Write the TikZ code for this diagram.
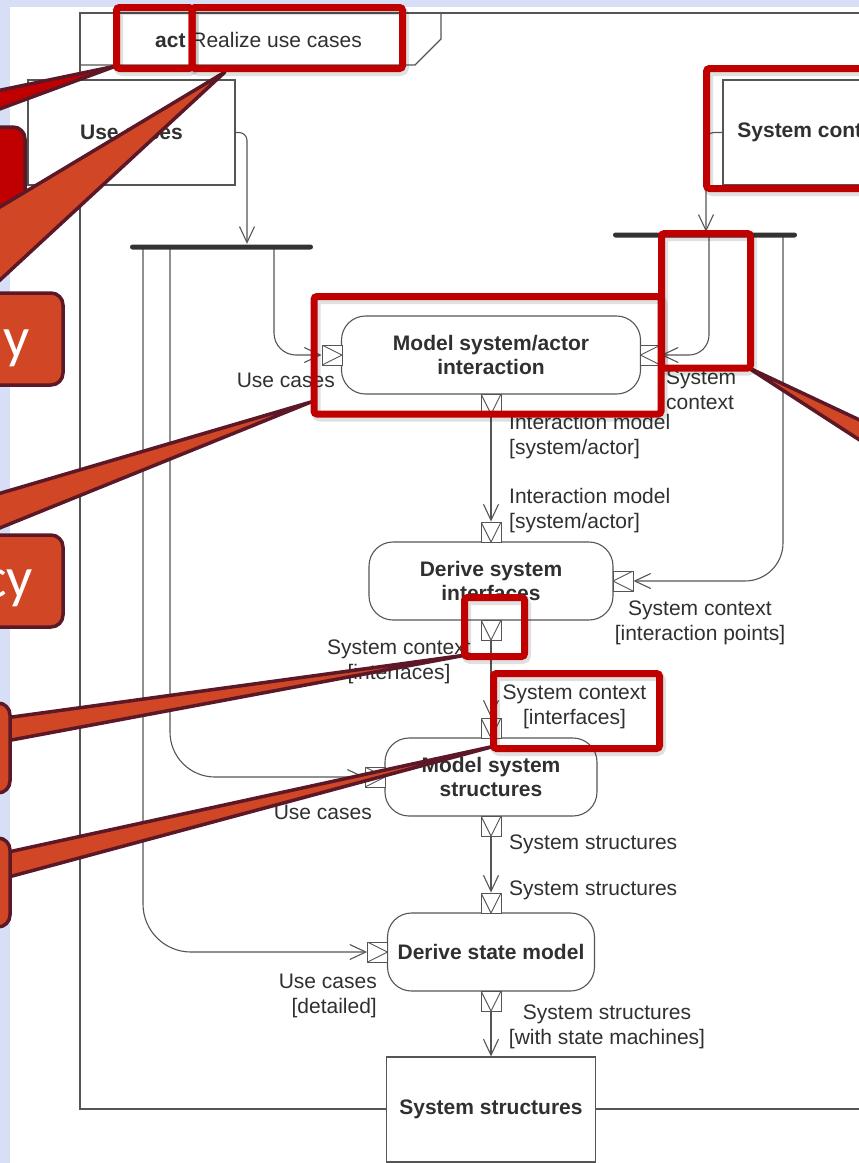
\documentclass[tikz,border=0pt]{standalone}
\usepackage{fontspec}
\setmainfont{Liberation Sans}
\newfontfamily\calloutfont{Carlito}
\usetikzlibrary{arrows.meta}
\pgfdeclarelayer{bglayer}
\pgfdeclarelayer{edgelayer}
\pgfdeclarelayer{nodelayer}
\pgfsetlayers{bglayer,edgelayer,nodelayer,main}
\definecolor{slideblue}{RGB}{214,223,245}
\definecolor{umlgray}{RGB}{85,85,85}
\definecolor{umltext}{RGB}{48,48,48}
\definecolor{hilite}{RGB}{192,0,0}
\definecolor{callfill}{RGB}{209,70,36}
\definecolor{callline}{RGB}{92,24,38}
\tikzset{font=\fontsize{21}{25}\selectfont}
\tikzstyle{none}=[inner sep=0pt]
\tikzstyle{frame}=[draw=umlgray,line width=1.1pt]
\tikzstyle{action}=[draw=umlgray,fill=white,line width=1.1pt,rounded corners=24pt,minimum height=78pt,align=center,text=umltext,font=\fontsize{21}{24.5}\selectfont\bfseries]
\tikzstyle{param}=[draw=umlgray,fill=white,line width=1.1pt,minimum height=105pt,text=umltext,font=\fontsize{21}{25}\selectfont\bfseries]
\tikzstyle{bar}=[fill=black!80,rounded corners=2.5pt,minimum height=5pt,inner sep=0pt]
\tikzstyle{pinr}=[draw=umlgray,fill=white,line width=0.9pt,minimum size=20pt,inner sep=0pt,path picture={\draw[umlgray,line width=0.9pt] (path picture bounding box.north west) -- (path picture bounding box.east) -- (path picture bounding box.south west);}]
\tikzstyle{pinl}=[draw=umlgray,fill=white,line width=0.9pt,minimum size=20pt,inner sep=0pt,path picture={\draw[umlgray,line width=0.9pt] (path picture bounding box.north east) -- (path picture bounding box.west) -- (path picture bounding box.south east);}]
\tikzstyle{pind}=[draw=umlgray,fill=white,line width=0.9pt,minimum size=20pt,inner sep=0pt,path picture={\draw[umlgray,line width=0.9pt] (path picture bounding box.north west) -- (path picture bounding box.south) -- (path picture bounding box.north east);}]
\tikzstyle{flow}=[draw=umlgray,line width=1.1pt,-{Straight Barb[length=16pt,width=15pt]}]
\tikzstyle{lbl}=[inner sep=0pt,text=umltext]
\tikzstyle{hl}=[draw=hilite,line width=7pt,rounded corners=3pt]
\tikzstyle{hlshadow}=[draw=black,opacity=0.12,line width=9pt,rounded corners=4pt]
\tikzstyle{callout}=[fill=callfill,draw=callline,line width=3.5pt,line join=round]
\tikzstyle{calltext}=[inner sep=0pt,text=white,font=\calloutfont\fontsize{58}{60}\selectfont]

\begin{document}
\begin{tikzpicture}[x=1pt,y=-1pt]
	\useasboundingbox (0,0) rectangle (859,1163);
	\begin{pgfonlayer}{bglayer}
		\fill [slideblue] (0,0) rectangle (859,1163);
		\fill [white] (10,7) rectangle (859,1163);
	\end{pgfonlayer}
	\begin{pgfonlayer}{nodelayer}
		\node [style=param, minimum width=207pt] (0) at (131.5,132.5) {Use cases};
		\node [style=param, minimum width=184pt] (1) at (815,132.5) {System context};
		\node [style=param, minimum width=209pt] (2) at (491,1109.5) {System structures};
		\node [style=bar, minimum width=183pt] (3) at (221.5,247) {};
		\node [style=bar, minimum width=184pt] (4) at (705,235) {};
		\node [style=action, minimum width=299pt] (5) at (491,355) {Model system/actor\\interaction};
		\node [style=action, minimum width=244pt] (6) at (491,581) {Derive system\\interfaces};
		\node [style=action, minimum width=212pt] (7) at (491,777) {Model system\\structures};
		\node [style=action, minimum width=207pt] (8) at (491,952) {Derive state model};
		\node [style=pinr] (10) at (332,355) {};
		\node [style=pinl] (11) at (650.5,355) {};
		\node [style=pind] (12) at (491,404) {};
		\node [style=pind] (13) at (491,532) {};
		\node [style=pinl] (14) at (623,581) {};
		\node [style=pind] (15) at (491,630) {};
		\node [style=pind] (16) at (491,728) {};
		\node [style=pinr] (17) at (375,777) {};
		\node [style=pind] (18) at (491,826) {};
		\node [style=pind] (19) at (491,903) {};
		\node [style=pinr] (20) at (377.5,952) {};
		\node [style=pind] (21) at (491,1001) {};
		\node [style=none] (30) at (247,244.5) {};
		\node [style=none] (31) at (143,247) {};
		\node [style=none] (32) at (170,247) {};
		\node [style=none] (33) at (274,247) {};
		\node [style=none] (34) at (706,232.5) {};
		\node [style=none] (35) at (709,235) {};
		\node [style=none] (36) at (783,235) {};
		\node [style=lbl, anchor=base west] (40) at (155,47.5) {\textbf{act} Realize use cases};
		\node [style=lbl, anchor=east] (41) at (335,380) {Use cases};
		\node [style=lbl, anchor=west, align=left] (42) at (666,390) {System\\context};
		\node [style=lbl, anchor=west, align=left] (43) at (509,436.5) {Interaction model\\{}[system/actor]};
		\node [style=lbl, anchor=west, align=left] (44) at (509,510.5) {Interaction model\\{}[system/actor]};
		\node [style=lbl, align=center] (45) at (700,622.5) {System context\\{}[interaction points]};
		\node [style=lbl, align=center] (46) at (399,661.5) {System context\\{}[interfaces]};
		\node [style=lbl, align=center] (47) at (574.5,706.5) {System context\\{}[interfaces]};
		\node [style=lbl, anchor=east] (48) at (372,812) {Use cases};
		\node [style=lbl, anchor=west] (49) at (509,844) {System structures};
		\node [style=lbl, anchor=west] (50) at (509,890) {System structures};
		\node [style=lbl, anchor=east, align=right] (51) at (377,995.5) {Use cases\\{}[detailed]};
		\node [style=lbl, align=center] (52) at (607,1026.5) {System structures\\{}[with state machines]};
	\end{pgfonlayer}
	\begin{pgfonlayer}{edgelayer}
		\draw [style=frame] (880,13) -- (80,13) -- (80,1109) -- (880,1109);
		\draw [style=frame] (80,65) -- (415,65) -- (441,39) -- (441,13);
		\draw [style=flow, rounded corners=8pt] (0.east) -| (30);
		\draw [style=flow, rounded corners=8pt] (1.west) -| (34);
		\draw [style=flow, rounded corners=22pt] (33.center) |- (10);
		\draw [style=flow, rounded corners=45pt] (32.center) |- (17);
		\draw [style=flow, rounded corners=48pt] (31.center) |- (20);
		\draw [style=flow, rounded corners=20pt] (35.center) |- (11);
		\draw [style=flow, rounded corners=38pt] (36.center) |- (14);
		\draw [style=flow] (12) to (13);
		\draw [style=flow] (15) to (16);
		\draw [style=flow] (18) to (19);
		\draw [style=flow] (21) to (2);
	\end{pgfonlayer}
	% callouts
	\draw [style=callout, fill=hilite] (116,66) -- (-200,132) -- (-60,131) -- cycle;
	\draw [style=callout, fill=hilite, rounded corners=12pt] (-250,127) rectangle (25,230);
	\draw [style=callout] (225,72) -- (-150,297) -- (-40,317) -- cycle;
	\draw [style=callout, rounded corners=12pt] (-250,293) rectangle (63,385);
	\node [style=calltext, anchor=base east] (60) at (30,357) {y};
	\draw [style=callout] (311,402) -- (-200,552) -- (-30,540) -- cycle;
	\draw [style=callout, rounded corners=12pt] (-250,535) rectangle (63,627);
	\node [style=calltext, anchor=base east] (61) at (33,597) {cy};
	\draw [style=callout] (466,655) -- (-10,720) -- (-10,744) -- cycle;
	\draw [style=callout, rounded corners=12pt] (-250,703) rectangle (10,793);
	\draw [style=callout] (495,746) -- (-10,856) -- (-10,882) -- cycle;
	\draw [style=callout, rounded corners=12pt] (-250,838) rectangle (10,927);
	\draw [style=callout] (747,367) -- (1000,486) -- (1000,531) -- cycle;
	% highlights
	\foreach \ax/\ay/\bx/\by in {116.5/7.5/192/68.5, 192/7.5/402.5/68.5, 706.5/68.5/900/188.5, 661.5/233.5/750.5/368, 314/296.5/661/414, 464.5/597.5/524.5/656.5, 493.5/673.5/659.5/748.5}
		\draw [style=hlshadow] (\ax+2,\ay+3) rectangle (\bx+2,\by+3);
	\foreach \ax/\ay/\bx/\by in {116.5/7.5/192/68.5, 192/7.5/402.5/68.5, 706.5/68.5/900/188.5, 661.5/233.5/750.5/368, 314/296.5/661/414, 464.5/597.5/524.5/656.5, 493.5/673.5/659.5/748.5}
		\draw [style=hl] (\ax,\ay) rectangle (\bx,\by);
\end{tikzpicture}
\end{document}
